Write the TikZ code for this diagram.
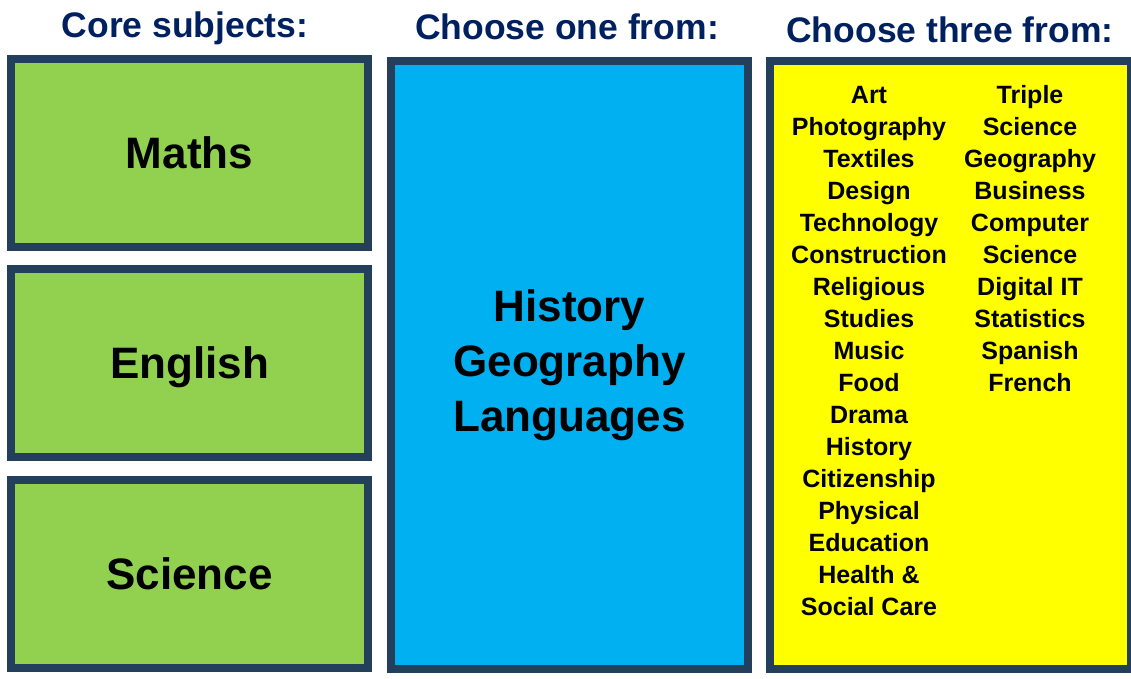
\documentclass[tikz,border=0pt]{standalone}
\usepackage{fontspec}
\setmainfont{Liberation Sans}
\definecolor{coregreen}{HTML}{92D050}
\definecolor{optionblue}{HTML}{00B0F0}
\definecolor{choiceyellow}{HTML}{FFFF00}
\definecolor{frameblue}{HTML}{243F5C}
\definecolor{headnavy}{HTML}{002060}

\begin{document}
\begin{tikzpicture}[x=1pt, y=-1pt,
      every node/.style = {align=center, font=\bfseries},
      heading/.style = {anchor=base, text=headnavy,
        font=\bfseries\fontsize{35.5}{40}\selectfont},
      subject/.style = {draw=frameblue, line width=8pt,
        minimum width=357pt, inner sep=0pt},
      bigtext/.style = {font=\bfseries\fontsize{44}{55}\selectfont},
      coretext/.style = {subject, bigtext, fill=coregreen, minimum height=188pt,
        text height=31.5pt, text depth=0pt},
      smalltext/.style = {anchor=north, inner sep=0pt,
        font=\bfseries\fontsize{25}{32}\selectfont}]
    \useasboundingbox (0,0) rectangle (1131,678);
    \node[heading] (core) at (185,37) {Core subjects:};
    \node[heading] (one) at (567,39) {Choose one from:};
    \node[heading] (three) at (950,42) {Choose three from:};
    \node[coretext] (maths) at (189.5,153) {Maths};
    \node[coretext] (english) at (189.5,363) {English};
    \node[coretext] (science) at (189.5,574) {Science};
    \node[subject, fill=optionblue, minimum height=608pt, bigtext] (options) at (569.5,365)
      {History\\Geography\\Languages};
    \node[subject, fill=choiceyellow, minimum width=361pt, minimum height=608pt] (choices) at (950.5,365) {};
    \node[smalltext] (leftlist) at (869,86)
      {Art\\Photography\\Textiles\\Design\\Technology\\Construction\\Religious\\Studies\\Music\\Food\\Drama\\History\\Citizenship\\Physical\\Education\\Health \&\\Social Care};
    \node[smalltext] (rightlist) at (1030,85)
      {Triple\\Science\\Geography\\Business\\Computer\\Science\\Digital IT\\Statistics\\Spanish\\French};
  \end{tikzpicture}
\end{document}
